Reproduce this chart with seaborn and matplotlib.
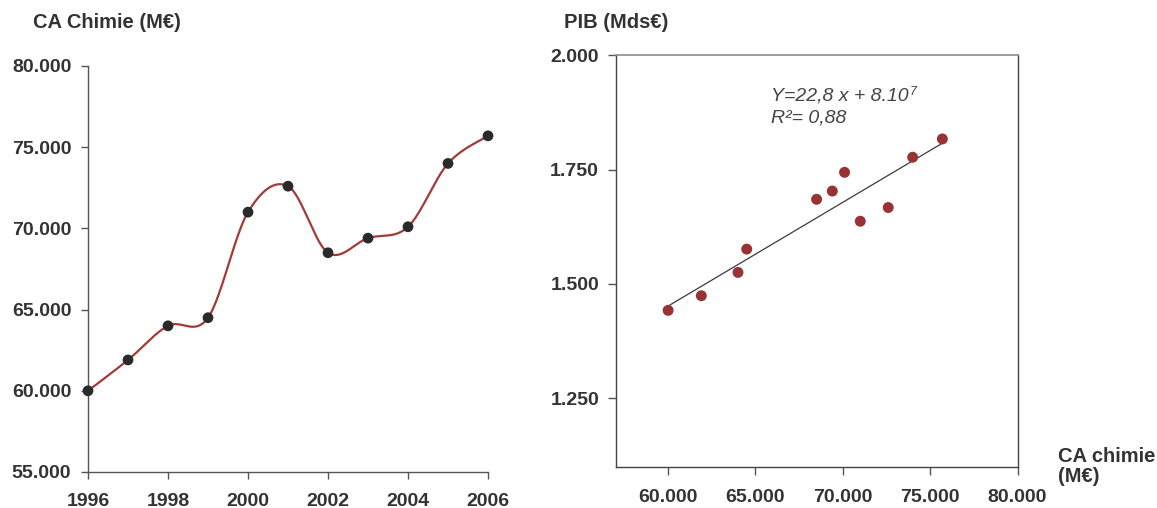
import numpy as np
import pandas as pd
import matplotlib
matplotlib.use("Agg")
import matplotlib.pyplot as plt
from matplotlib.ticker import FuncFormatter, FixedLocator
import seaborn as sns

# Chemical industry turnover (M€) per year
years = [1996, 1997, 1998, 1999, 2000, 2001, 2002, 2003, 2004, 2005, 2006]
ca_chimie = [60000, 61900, 64000, 64500, 71000, 72600, 68500, 69400, 70100, 74000, 75700]
# GDP (Mds€) for the same years
pib = [1442, 1474, 1525, 1576, 1637, 1667, 1685, 1703, 1744, 1777, 1817]

left_yticks = [55000, 60000, 65000, 70000, 75000, 80000]
left_xticks = [1996, 1998, 2000, 2002, 2004, 2006]
right_xticks = [60000, 65000, 70000, 75000, 80000]
right_yticks = [1250, 1500, 1750, 2000]

equation = "Y=22,8 x + 8.10"
equation_exp = "7"
r2_label = "R²= 0,88"

sns.set_theme(style="ticks")
plt.rcParams["font.family"] = ["Liberation Sans", "DejaVu Sans"]

TXT = "#333333"
LINE_RED = "#a33a3a"
DOT_RED = "#983234"
DOT_DARK = "#2a2a2a"
SPINE = "#555555"
TICK_FS = 14
TITLE_FS = 14.5

W, H = 1157, 508
fig = plt.figure(figsize=(W / 100, H / 100), dpi=100)
fig.patch.set_facecolor("white")


def fmt_thousands(v, _pos=None):
    return f"{v:,.0f}".replace(",", ".")


def smooth_curve(x, y, n=40):
    """Catmull-Rom style Bezier smoothing through the given points."""
    x = np.asarray(x, float)
    y = np.asarray(y, float)
    px = np.concatenate([[x[0]], x, [x[-1]]])
    py = np.concatenate([[y[0]], y, [y[-1]]])
    xs, ys = [], []
    t = np.linspace(0, 1, n)
    for i in range(1, len(px) - 2):
        p0 = np.array([px[i], py[i]])
        p3 = np.array([px[i + 1], py[i + 1]])
        c1 = p0 + (np.array([px[i + 1], py[i + 1]]) - np.array([px[i - 1], py[i - 1]])) / 6
        c2 = p3 - (np.array([px[i + 2], py[i + 2]]) - np.array([px[i], py[i]])) / 6
        b = ((1 - t) ** 3)[:, None] * p0 + (3 * (1 - t) ** 2 * t)[:, None] * c1 \
            + (3 * (1 - t) * t ** 2)[:, None] * c2 + (t ** 3)[:, None] * p3
        xs.append(b[:, 0])
        ys.append(b[:, 1])
    return np.concatenate(xs), np.concatenate(ys)


# ---------- Left: turnover over time ----------
ax1 = fig.add_axes([88 / W, (H - 472) / H, 400 / W, 406 / H])
df1 = pd.DataFrame({"annee": years, "ca": ca_chimie})
sx, sy = smooth_curve(years, ca_chimie)
sns.lineplot(x=sx, y=sy, ax=ax1, color=LINE_RED, lw=1.6, sort=False, clip_on=False)
sns.scatterplot(data=df1, x="annee", y="ca", ax=ax1, color=DOT_DARK, s=60,
                edgecolor="none", zorder=5, clip_on=False)
ax1.set_xlim(1996, 2006)
ax1.set_ylim(55000, 80000)
ax1.xaxis.set_major_locator(FixedLocator(left_xticks))
ax1.yaxis.set_major_locator(FixedLocator(left_yticks))
ax1.yaxis.set_major_formatter(FuncFormatter(fmt_thousands))
ax1.set_xlabel("")
ax1.set_ylabel("")
for side in ["top", "right"]:
    ax1.spines[side].set_visible(False)
for side in ["left", "bottom"]:
    ax1.spines[side].set_color(SPINE)
    ax1.spines[side].set_linewidth(1.0)
ax1.tick_params(axis="both", colors=SPINE, length=5, width=1.0, direction="out",
                labelsize=TICK_FS, labelcolor=TXT)
ax1.tick_params(axis="y", pad=7)
ax1.tick_params(axis="x", pad=10)
for lab in ax1.get_xticklabels() + ax1.get_yticklabels():
    lab.set_fontweight("bold")

fig.text(33 / W, 1 - 22 / H, "CA Chimie (M€)", ha="left", va="center",
         fontsize=TITLE_FS, fontweight="bold", color=TXT)

# ---------- Right: GDP vs turnover ----------
left2, right2, top2, bot2 = 615.7, 1017.5, 55.3, 466.7
ax2 = fig.add_axes([left2 / W, (H - bot2) / H, (right2 - left2) / W, (bot2 - top2) / H])
df2 = pd.DataFrame({"ca": ca_chimie, "pib": pib})
sns.regplot(data=df2, x="ca", y="pib", ax=ax2, ci=None, truncate=True,
            scatter_kws={"color": DOT_RED, "s": 62, "edgecolor": "none", "alpha": 1, "zorder": 4},
            line_kws={"color": "#3a3a3a", "lw": 0.9, "zorder": 3})
ax2.set_xlim(57000, 80000)
ax2.set_ylim(1100, 2000)
ax2.xaxis.set_major_locator(FixedLocator(right_xticks))
ax2.yaxis.set_major_locator(FixedLocator(right_yticks))
ax2.xaxis.set_major_formatter(FuncFormatter(fmt_thousands))
ax2.yaxis.set_major_formatter(FuncFormatter(fmt_thousands))
ax2.set_xlabel("")
ax2.set_ylabel("")
for side in ["left", "right", "bottom"]:
    ax2.spines[side].set_color("#444444")
    ax2.spines[side].set_linewidth(1.0)
ax2.spines["top"].set_color("#8c8c8c")
ax2.spines["top"].set_linewidth(1.2)
ax2.tick_params(axis="both", colors="#555555", length=6, width=1.0, direction="out",
                labelsize=TICK_FS, labelcolor=TXT)
ax2.tick_params(axis="y", pad=6)
ax2.tick_params(axis="x", pad=10)
for lab in ax2.get_xticklabels() + ax2.get_yticklabels():
    lab.set_fontweight("bold")

eq = ax2.text(65900, 1912, equation, ha="left", va="center", fontsize=14,
              fontstyle="italic", color="#444444")
ax2.annotate(equation_exp, xy=(1, 1), xycoords=eq, xytext=(0.5, 1), textcoords="offset points",
             ha="left", va="top", fontsize=9, fontstyle="italic", color="#444444")
ax2.text(65900, 1863, r2_label, ha="left", va="center", fontsize=14,
         fontstyle="italic", color="#444444")

fig.text(564 / W, 1 - 23 / H, "PIB (Mds€)", ha="left", va="center",
         fontsize=TITLE_FS, fontweight="bold", color=TXT)
fig.text(1058 / W, 1 - 447 / H, "CA chimie\n(M€)", ha="left", va="top",
         fontsize=TITLE_FS, fontweight="bold", color=TXT, linespacing=1.05)

fig.savefig("out.png", dpi=100, facecolor="white")
